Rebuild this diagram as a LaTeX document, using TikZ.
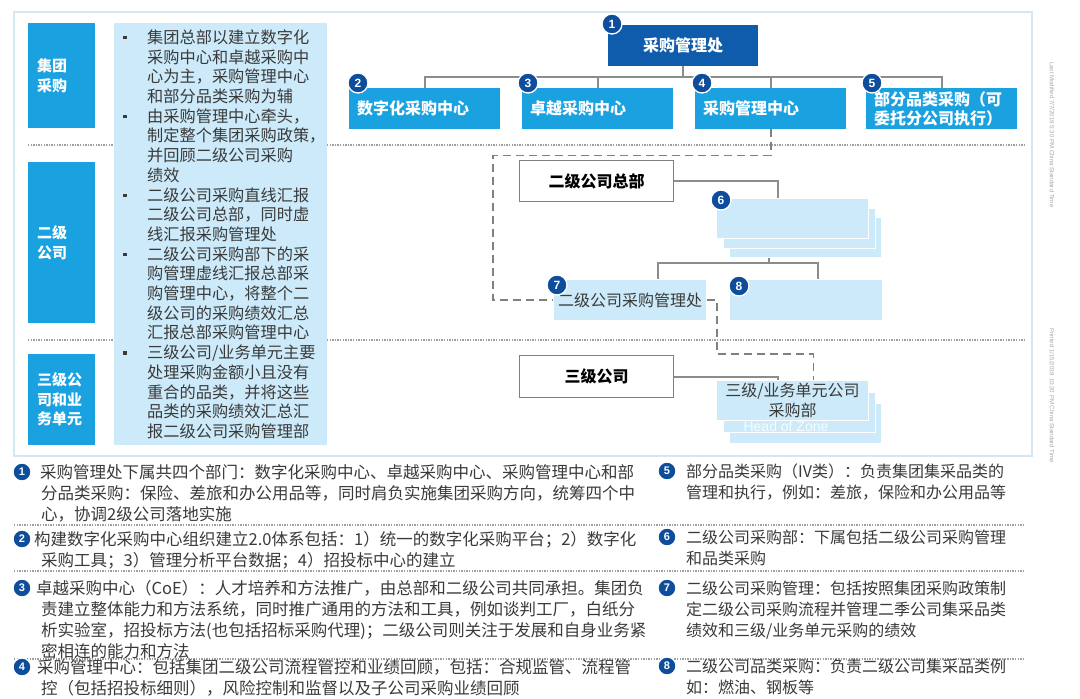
\documentclass[tikz,border=0pt]{standalone}
\usepackage{fontspec}
\setmainfont{Noto Sans CJK SC}
\newfontfamily\latinsf{Liberation Sans}
\usetikzlibrary{calc}
\definecolor{brightblue}{HTML}{1AA1E0}
\definecolor{darkblue}{HTML}{0E5CAB}
\definecolor{badgeblue}{HTML}{0D4D9C}
\definecolor{lightblue}{HTML}{CCEAF9}
\definecolor{framec}{HTML}{D2E8F2}
\definecolor{linegray}{HTML}{8C8C8C}
\definecolor{dotgray}{HTML}{9AA0A6}
\definecolor{textgray}{HTML}{3A3A3A}
\definecolor{sidegray}{HTML}{A8A8A8}
\newcommand\bpt{\makebox[8pt][c]{\raisebox{4pt}{\rule{3.5pt}{3.5pt}}}\hspace{18pt}}
\newcommand\bind{\hspace*{26pt}}
\begin{document}
\begin{tikzpicture}[x=1pt,y=-1pt,
  lvl/.style={fill=brightblue,text=white,font=\fontsize{15}{19.5}\selectfont\bfseries,anchor=north west,minimum width=67pt,text width=49pt,inner xsep=9pt,inner ysep=0pt,align=left},
  org/.style={fill=brightblue,text=white,font=\fontsize{16}{18.5}\selectfont\bfseries,anchor=north west,minimum height=41pt,text width=135pt,inner xsep=8pt,inner ysep=0pt,align=left},
  hqbox/.style={fill=white,draw=gray,line width=1.2pt,text=black,font=\fontsize{16}{18}\selectfont\bfseries,anchor=north west,minimum width=154pt,minimum height=41pt,inner sep=0pt},
  pale/.style={fill=lightblue,draw=white,line width=1pt,text=textgray,font=\fontsize{16}{20}\selectfont,anchor=north west,minimum width=152pt,minimum height=40pt,inner sep=0pt,align=center},
  badge/.style={circle,fill=badgeblue,draw=white,line width=1.3pt,text=white,font=\latinsf\fontsize{12}{12}\selectfont\bfseries,inner sep=0pt,minimum size=20pt},
  nbadge/.style={badge,minimum size=18pt,font=\latinsf\fontsize{11}{11}\selectfont\bfseries},
  conn/.style={draw=linegray,line width=2pt},
  dline/.style={draw=gray,line width=1.8pt,dash pattern=on 8pt off 5pt},
  sep/.style={draw=dotgray,line width=1.6pt,dash pattern=on 1.3pt off 1.3pt},
  note/.style={anchor=north west,inner sep=0pt,align=left,text=textgray,font=\fontsize{16.5}{21}\selectfont},
  side/.style={rotate=-90,anchor=west,inner sep=0pt,text=sidegray,font=\latinsf\fontsize{6.1}{7}\selectfont}
]
\useasboundingbox (0,0) rectangle (1080,699);
\fill[white] (0,0) rectangle (1080,699);

% frame and separators
\draw[framec,line width=1.5pt] (14,12) rectangle (1032,456);
\draw[sep] (28,145) -- (1025,145);
\draw[sep] (28,340) -- (1025,340);

% left info box
\node[fill=lightblue,anchor=north west,minimum width=213pt,minimum height=422pt,inner sep=0pt] (info) at (114,23) {};
\node[anchor=north west,inner sep=0pt,align=left,text=textgray,font=\fontsize{16.2}{19.7}\selectfont] (infotext) at (121,29.5) {%
\bpt 集团总部以建立数字化\\
\bind 采购中心和卓越采购中\\
\bind 心为主，采购管理中心\\
\bind 和部分品类采购为辅\\
\bpt 由采购管理中心牵头，\\
\bind 制定整个集团采购政策，\\
\bind 并回顾二级公司采购\\
\bind 绩效\\
\bpt 二级公司采购直线汇报\\
\bind 二级公司总部，同时虚\\
\bind 线汇报采购管理处\\
\bpt 二级公司采购部下的采\\
\bind 购管理虚线汇报总部采\\
\bind 购管理中心，将整个二\\
\bind 级公司的采购绩效汇总\\
\bind 汇报总部采购管理中心\\
\bpt 三级公司/业务单元主要\\
\bind 处理采购金额小且没有\\
\bind 重合的品类，并将这些\\
\bind 品类的采购绩效汇总汇\\
\bind 报二级公司采购管理部};

% level boxes
\node[lvl,minimum height=105pt] (lv1) at (28,23) {集团\\采购};
\node[lvl,minimum height=161pt] (lv2) at (28,162) {二级\\公司};
\node[lvl,minimum height=91pt] (lv3) at (28,354) {三级公\\司和业\\务单元};

% top org boxes
\node[org,fill=darkblue,text width=134pt,align=center] (b1) at (608,25) {采购管理处};
\node[org] (b2) at (349,88) {数字化采购中心};
\node[org] (b3) at (522,88) {卓越采购中心};
\node[org] (b4) at (695,88) {采购管理中心};
\node[org] (b5) at (866,88) {部分品类采购（可\\委托分公司执行）};

% level-2 and level-3 boxes
\node[hqbox] (hq2) at (519,160) {二级公司总部};
\node[hqbox,minimum height=42pt] (hq3) at (519,355) {三级公司};

\node[pale] (s1c) at (729,217) {};
\node[pale] (s1b) at (722.5,207.5) {};
\node[pale] (s1a) at (716,198) {};
\node[pale,minimum width=153pt,minimum height=41pt] (b7) at (553,279) {二级公司采购管理处};
\node[pale,minimum width=153pt,minimum height=41pt] (b8) at (729,279) {};
\node[pale] (s2c) at (729,403) {};
\node[pale] (s2b) at (722.5,391.5) {};
\node[pale,font=\fontsize{16}{20}\selectfont] (s2a) at (716,380) {三级/业务单元公司\\采购部};
\node[text=white,opacity=0.85,font=\latinsf\fontsize{14}{14}\selectfont,inner sep=0pt] (hoz) at (786,426) {Head of Zone};

% solid connectors
\draw[conn] (b1.south) -- ++(0,12);
\draw[conn] (b2.north) -- ++(0,-11) -| (b5.north);
\draw[conn] (b3.north) -- ++(0,-11);
\draw[conn] (b4.north) -- ++(0,-11);
\draw[conn] (hq2.east) -| ($(s1a.north)+(-15,0)$);
\draw[conn] (hq3.east) -| ($(s2a.north)+(-15,0)$);
\draw[conn] ($(s1c.south)+(-36.5,0)$) -- ++(0,6);
\draw[conn] ($(b7.north)+(27.5,0)$) |- ($(b8.north)+(12,-16)$) -- ($(b8.north)+(12,0)$);

% dashed connectors
\draw[dline] (b4.south) -- ++(0,26) -| ($(b7.west)+(-60,0)$) -- (b7.west);
\draw[dline] (b7.east) -- ++(10,0) |- ($(s2a.north)+(21,-26)$) -- ($(s2a.north)+(21,0)$);

% badges in chart
\node[badge] (bd1) at (612,24) {1};
\node[badge] (bd2) at (358,83) {2};
\node[badge] (bd3) at (528,83) {3};
\node[badge] (bd4) at (702,83) {4};
\node[badge] (bd5) at (872,83) {5};
\node[badge] (bd6) at (721,200) {6};
\node[badge] (bd7) at (557,285) {7};
\node[badge] (bd8) at (739,286) {8};

% side texts
\node[side] (mod) at (1052,62) {Last Modified 7/7/2019 5:30 PM China Standard Time};
\node[side] (prt) at (1052,328) {Printed 1/15/2019 10:20 PM China Standard Time};

% bottom notes
\draw[sep] (14,525) -- (1025,525);
\draw[sep] (14,571) -- (1025,571);
\draw[sep] (14,659) -- (1025,659);

\node[nbadge] (nb1) at (22,472) {1};
\node[nbadge] (nb2) at (22,539) {2};
\node[nbadge] (nb3) at (22,588) {3};
\node[nbadge] (nb4) at (22,667) {4};
\node[nbadge] (nb5) at (667,471) {5};
\node[nbadge] (nb6) at (667,537) {6};
\node[nbadge] (nb7) at (667,588) {7};
\node[nbadge] (nb8) at (667,666) {8};

\node[note] (n1) at (41,464.5) {\hspace*{-1pt}采购管理处下属共四个部门：数字化采购中心、卓越采购中心、采购管理中心和部\\
分品类采购：保险、差旅和办公用品等，同时肩负实施集团采购方向，统筹四个中\\
心，协调2级公司落地实施};
\node[note] (n2) at (41,531.5) {\hspace*{-7pt}构建数字化采购中心组织建立2.0体系包括：1）统一的数字化采购平台；2）数字化\\
采购工具；3）管理分析平台数据；4）招投标中心的建立};
\node[note] (n3) at (41,580.5) {\hspace*{-5pt}卓越采购中心（CoE）：人才培养和方法推广，由总部和二级公司共同承担。集团负\\
责建立整体能力和方法系统，同时推广通用的方法和工具，例如谈判工厂，白纸分\\
析实验室，招投标方法(也包括招标采购代理)；二级公司则关注于发展和自身业务紧\\
密相连的能力和方法};
\node[note] (n4) at (41,659.5) {\hspace*{-4pt}采购管理中心：包括集团二级公司流程管控和业绩回顾，包括：合规监管、流程管\\
控（包括招投标细则），风险控制和监督以及子公司采购业绩回顾};

\node[note,font=\fontsize{16}{21}\selectfont] (n5) at (686,463.5) {部分品类采购（IV类）：负责集团集采品类的\\
管理和执行，例如：差旅，保险和办公用品等};
\node[note,font=\fontsize{16}{21}\selectfont] (n6) at (686,529.5) {二级公司采购部：下属包括二级公司采购管理\\
和品类采购};
\node[note,font=\fontsize{16}{21}\selectfont] (n7) at (686,580.5) {二级公司采购管理：包括按照集团采购政策制\\
定二级公司采购流程并管理二季公司集采品类\\
绩效和三级/业务单元采购的绩效};
\node[note,font=\fontsize{16}{21}\selectfont] (n8) at (686,658.5) {二级公司品类采购：负责二级公司集采品类例\\
如：燃油、钢板等};
\end{tikzpicture}
\end{document}
